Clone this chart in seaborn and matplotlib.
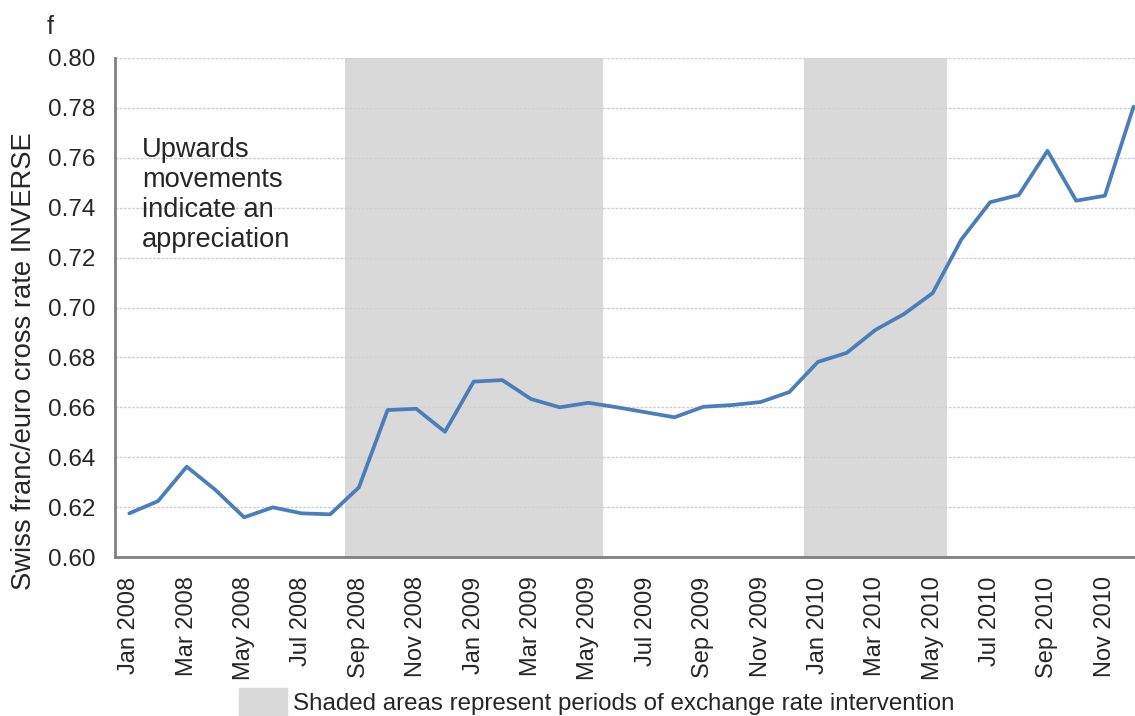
import numpy as np
import pandas as pd
import matplotlib
matplotlib.use("Agg")
import matplotlib.pyplot as plt
from matplotlib.patches import Patch
from matplotlib.ticker import FixedLocator
import seaborn as sns

# monthly data, Jan 2008 .. Dec 2010
months = ["Jan 2008", "Feb 2008", "Mar 2008", "Apr 2008", "May 2008", "Jun 2008",
          "Jul 2008", "Aug 2008", "Sep 2008", "Oct 2008", "Nov 2008", "Dec 2008",
          "Jan 2009", "Feb 2009", "Mar 2009", "Apr 2009", "May 2009", "Jun 2009",
          "Jul 2009", "Aug 2009", "Sep 2009", "Oct 2009", "Nov 2009", "Dec 2009",
          "Jan 2010", "Feb 2010", "Mar 2010", "Apr 2010", "May 2010", "Jun 2010",
          "Jul 2010", "Aug 2010", "Sep 2010", "Oct 2010", "Nov 2010", "Dec 2010"]
rate_inverse = [0.6175, 0.6224, 0.6362, 0.6269, 0.6159, 0.6199,
                0.6175, 0.6171, 0.6279, 0.6589, 0.6594, 0.6502,
                0.6703, 0.6709, 0.6633, 0.6600, 0.6618, 0.6600,
                0.6580, 0.6560, 0.6602, 0.6609, 0.6621, 0.6661,
                0.6782, 0.6818, 0.6910, 0.6974, 0.7058, 0.7273,
                0.7422, 0.7451, 0.7628, 0.7428, 0.7448, 0.7805]
# intervention periods (first month, last month)
interventions = [("Sep 2008", "May 2009"), ("Jan 2010", "May 2010")]

df = pd.DataFrame({"month": months, "rate": rate_inverse})
df["idx"] = np.arange(len(df))

sns.set_style("white")
plt.rcParams["font.family"] = ["Liberation Sans", "DejaVu Sans"]

fig = plt.figure(figsize=(11.35, 7.16), dpi=100)
ax = fig.add_axes([115 / 1135, 1 - 557 / 716, 1 - 115 / 1135, (557 - 58) / 716])

for start, end in interventions:
    ax.axvspan(months.index(start) - 0.5, months.index(end) + 0.5,
               color="#d9d9d9", lw=0, zorder=0)

sns.lineplot(data=df, x="idx", y="rate", ax=ax, color="#4a7ebb", lw=2.7, zorder=3)

ax.set_xlim(-0.5, 35.05)
ax.set_ylim(0.60, 0.80)
ax.set_yticks(np.arange(0.60, 0.801, 0.02))
ax.set_yticklabels([f"{v:.2f}" for v in np.arange(0.60, 0.801, 0.02)], fontsize=17.5)
ax.yaxis.grid(True, color="#cfcfcf", ls=(0, (2, 1)), lw=1, zorder=1)
ax.tick_params(axis="y", length=0, pad=14)

ax.set_xticks(df["idx"][::2])
ax.set_xticklabels(df["month"][::2], rotation=90, fontsize=17)
ax.tick_params(axis="x", which="major", length=0, pad=14)
ax.xaxis.set_minor_locator(FixedLocator(np.arange(1.5, 35, 2)))
ax.tick_params(axis="x", which="minor", direction="in", length=6, width=1.2, color="#808080")

for s in ["top", "right"]:
    ax.spines[s].set_visible(False)
for s in ["left", "bottom"]:
    ax.spines[s].set_color("#808080")
    ax.spines[s].set_linewidth(2)

ax.set_xlabel("")
ax.set_ylabel("")
fig.text(24 / 1135, 1 - 361 / 716, "Swiss franc/euro cross rate INVERSE",
         fontsize=19.7, rotation=90, ha="center", va="center")

ax.text(0.45, 0.7683, "Upwards\nmovements\nindicate an\nappreciation",
        fontsize=19.6, va="top", ha="left", linespacing=1.2)
fig.text(47 / 1135, 1 - 27 / 716, "f", fontsize=18, va="center", ha="left")

fig.legend(handles=[Patch(color="#d9d9d9")],
           labels=["Shaded areas represent periods of exchange rate intervention"],
           loc="center", bbox_to_anchor=(0.526, 0.02), frameon=False, fontsize=17.4,
           handlelength=2.0, handleheight=1.4, handletextpad=0.25)

fig.savefig("out.png", dpi=100)
